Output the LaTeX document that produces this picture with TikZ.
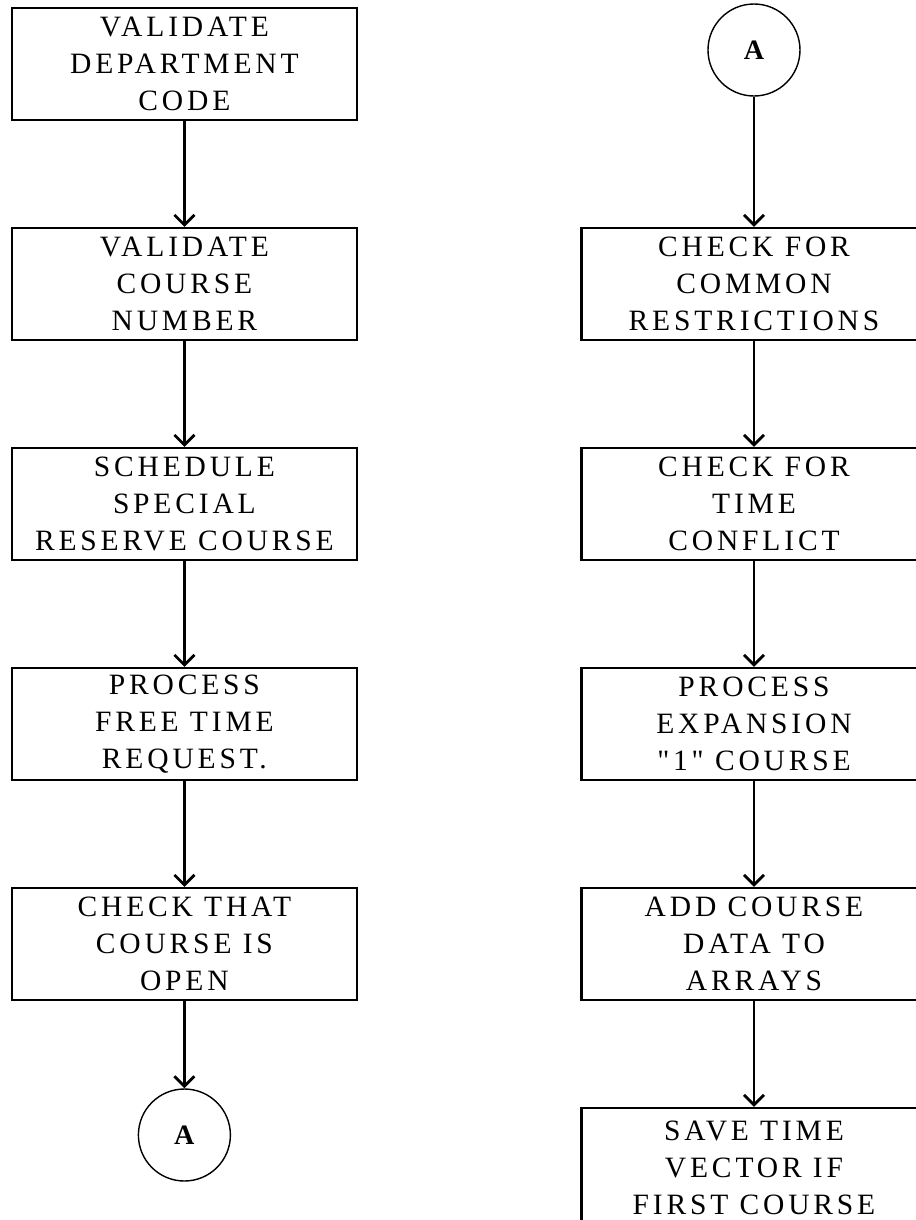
\documentclass[tikz,border=0pt]{standalone}
\usepackage{fontspec}
\usetikzlibrary{arrows.meta}
\newfontfamily\boxfont{Liberation Serif}[LetterSpace=13]
\tikzstyle{process} = [rectangle, minimum width=8.625cm, minimum height=2.8cm, text centered, align=center, draw=black, line width=1.6pt, font=\boxfont\fontsize{21}{26.5}\selectfont]
\tikzstyle{connector} = [circle, minimum size=2.3cm, draw=black, line width=1pt, font=\boxfont\bfseries\fontsize{20}{22}\selectfont]
\tikzstyle{arrow} = [line width=2pt,-{Straight Barb[length=2.5mm,width=5mm]}]
\begin{document}
\begin{tikzpicture}[node distance=5.5cm]

        \useasboundingbox (0,0) rectangle (22.9,-30.5);

        % left column
        \node (valDept) [process] at (4.61,-1.6) {VALIDATE\\DEPARTMENT\\CODE};
        \node (valCourse) [process, below of=valDept] {VALIDATE\\COURSE\\NUMBER};
        \node (schedReserve) [process, below of=valCourse] {SCHEDULE\\SPECIAL\\RESERVE COURSE};
        \node (freeTime) [process, below of=schedReserve] {PROCESS\\FREE TIME\\REQUEST.};
        \node (checkOpen) [process, below of=freeTime] {CHECK THAT\\COURSE IS\\OPEN};
        \node (outA) [connector, below of=checkOpen, yshift=0.725cm] {A};

        % right column
        \node (checkCommon) [process, right of=valCourse, xshift=8.74cm] {CHECK FOR\\COMMON\\RESTRICTIONS};
        \node (inA) [connector, above of=checkCommon, yshift=0.35cm] {A};
        \node (checkConflict) [process, below of=checkCommon] {CHECK FOR\\TIME\\CONFLICT};
        \node (expansion) [process, below of=checkConflict] {PROCESS\\EXPANSION\\"1" COURSE};
        \node (addData) [process, below of=expansion] {ADD COURSE\\DATA TO\\ARRAYS};
        \node (saveVector) [process, below of=addData, minimum height=3cm, yshift=-0.1cm] {SAVE TIME\\VECTOR IF\\FIRST COURSE};

        \draw [arrow] (valDept) -- (valCourse);
        \draw [arrow] (valCourse) -- (schedReserve);
        \draw [arrow] (schedReserve) -- (freeTime);
        \draw [arrow] (freeTime) -- (checkOpen);
        \draw [arrow] (checkOpen) -- (outA);

        \draw [arrow] (inA) -- (checkCommon);
        \draw [arrow] (checkCommon) -- (checkConflict);
        \draw [arrow] (checkConflict) -- (expansion);
        \draw [arrow] (expansion) -- (addData);
        \draw [arrow] (addData) -- (saveVector);

    \end{tikzpicture}
\end{document}
